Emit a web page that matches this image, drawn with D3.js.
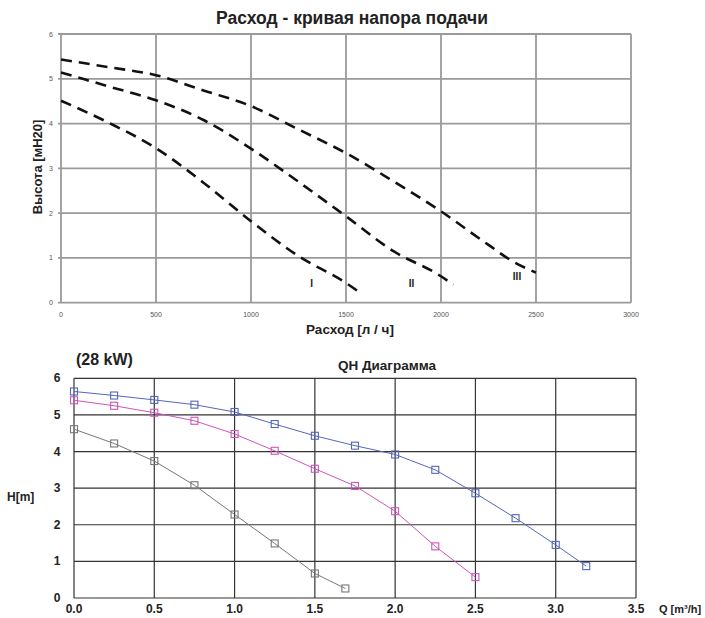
<!DOCTYPE html>
<html>
  <head>
    <meta charset="utf-8" />
    <title>QH curves</title>
    <script src="https://d3js.org/d3.v7.min.js"></script>
    <style>
        body { margin:0; background:#fff; }
        text { font-family: "Liberation Sans", Arial, sans-serif; }
    </style>
  </head>
  <body>
    <svg id="viz"></svg>
    <script>
        // top chart: flow [l/h] vs head [mH2O], three pump speeds
        var flowTicks = [0, 500, 1000, 1500, 2000, 2500, 3000];
        var headTicks = [0, 1, 2, 3, 4, 5, 6];
        var speedI   = [[0,4.51],[250,4.02],[500,3.45],[750,2.68],[1000,1.82],[1250,1.04],[1500,0.44],[1565,0.25]];
        var speedII  = [[0,5.14],[250,4.83],[500,4.52],[750,4.08],[1000,3.44],[1250,2.70],[1500,1.93],[1750,1.15],[2000,0.59],[2065,0.40]];
        var speedIII = [[0,5.43],[250,5.26],[500,5.08],[750,4.74],[1000,4.39],[1250,3.87],[1500,3.34],[1750,2.71],[2000,2.04],[2250,1.29],[2375,0.93],[2500,0.67]];
        var speedLabels = [["I",1319,0.43],["II",1845,0.43],["III",2400,0.59]];

        // bottom chart: Q [m3/h] vs H [m]
        var qTicks = [0, 0.5, 1.0, 1.5, 2.0, 2.5, 3.0, 3.5];
        var hTicks = [0, 1, 2, 3, 4, 5, 6];
        var qhBlue = [[0,5.64],[0.25,5.53],[0.5,5.41],[0.75,5.28],[1.0,5.08],[1.25,4.75],[1.5,4.43],[1.75,4.16],[2.0,3.92],[2.25,3.50],[2.5,2.86],[2.75,2.18],[3.0,1.45],[3.19,0.87]];
        var qhPink = [[0,5.40],[0.25,5.25],[0.5,5.06],[0.75,4.84],[1.0,4.48],[1.25,4.02],[1.5,3.53],[1.75,3.06],[2.0,2.37],[2.25,1.41],[2.5,0.57]];
        var qhGray = [[0,4.61],[0.25,4.22],[0.5,3.74],[0.75,3.08],[1.0,2.28],[1.25,1.49],[1.5,0.67],[1.69,0.26]];

        var width = 705, height = 618;
        var svg = d3.select("#viz").attr("width", width).attr("height", height);
        svg.append("rect").attr("width", width).attr("height", height).attr("fill", "#fff");

        // ---------- top chart ----------
        var x1 = d3.scaleLinear().domain([0, 3000]).range([61, 631]);
        var y1 = d3.scaleLinear().domain([0, 6]).range([302.7, 34]);
        var topG = svg.append("g");

        topG.selectAll("line.vg").data(flowTicks).enter().append("line")
            .attr("x1", d => x1(d)).attr("x2", d => x1(d))
            .attr("y1", y1(0)).attr("y2", y1(6))
            .attr("stroke", "#9a9a9a").attr("stroke-width", 1.8);
        topG.selectAll("line.hg").data(headTicks).enter().append("line")
            .attr("x1", x1(0) - 3).attr("x2", x1(3000))
            .attr("y1", d => y1(d)).attr("y2", d => y1(d))
            .attr("stroke", "#9a9a9a").attr("stroke-width", 1.8);

        topG.selectAll("text.xt").data(flowTicks).enter().append("text")
            .attr("x", d => x1(d)).attr("y", 317)
            .attr("text-anchor", "middle").attr("font-size", 7).attr("fill", "#555")
            .text(d => d);
        topG.selectAll("text.yt").data(headTicks).enter().append("text")
            .attr("x", 53).attr("y", d => y1(d) + 2.5)
            .attr("text-anchor", "end").attr("font-size", 7).attr("fill", "#555")
            .text(d => d);

        var line1 = d3.line().x(d => x1(d[0])).y(d => y1(d[1])).curve(d3.curveMonotoneX);
        topG.selectAll("path.curve").data([speedI, speedII, speedIII]).enter().append("path")
            .attr("d", line1).attr("fill", "none")
            .attr("stroke", "#111").attr("stroke-width", 2.6)
            .attr("stroke-dasharray", "11,7");

        topG.selectAll("text.lab").data(speedLabels).enter().append("text")
            .attr("x", d => x1(d[1])).attr("y", d => y1(d[2]) + 4)
            .attr("text-anchor", "middle").attr("font-size", 10).attr("font-weight", "bold")
            .attr("fill", "#222").text(d => d[0]);

        topG.append("text").attr("x", 352).attr("y", 24)
            .attr("text-anchor", "middle").attr("font-size", 17.5).attr("font-weight", "bold")
            .attr("fill", "#222").text("Расход - кривая напора подачи");
        topG.append("text").attr("x", 350).attr("y", 334)
            .attr("text-anchor", "middle").attr("font-size", 13.5).attr("font-weight", "bold")
            .attr("fill", "#222").text("Расход [л / ч]");
        topG.append("text").attr("transform", "translate(41.5,167) rotate(-90)")
            .attr("text-anchor", "middle").attr("font-size", 13).attr("font-weight", "bold")
            .attr("fill", "#222").text("Высота [мН20]");

        // ---------- bottom chart ----------
        var x2 = d3.scaleLinear().domain([0, 3.5]).range([74, 636]);
        var y2 = d3.scaleLinear().domain([0, 6]).range([598, 378.3]);
        var bot = svg.append("g");

        bot.selectAll("line.vg").data(qTicks).enter().append("line")
            .attr("x1", d => x2(d)).attr("x2", d => x2(d))
            .attr("y1", y2(0)).attr("y2", y2(6))
            .attr("stroke", "#333").attr("stroke-width", 1.2);
        bot.selectAll("line.hg").data(hTicks).enter().append("line")
            .attr("x1", x2(0)).attr("x2", x2(3.5))
            .attr("y1", d => y2(d)).attr("y2", d => y2(d))
            .attr("stroke", "#333").attr("stroke-width", 1.2);

        bot.selectAll("text.xt").data(qTicks).enter().append("text")
            .attr("x", d => x2(d)).attr("y", 613)
            .attr("text-anchor", "middle").attr("font-size", 12).attr("font-weight", "bold")
            .attr("fill", "#222").text(d => d.toFixed(1));
        bot.selectAll("text.yt").data(hTicks).enter().append("text")
            .attr("x", 57).attr("y", d => y2(d) + 4)
            .attr("text-anchor", "middle").attr("font-size", 12).attr("font-weight", "bold")
            .attr("fill", "#222").text(d => d);

        var series = [
            {pts: qhBlue, color: "#5566bb"},
            {pts: qhPink, color: "#cc55bb"},
            {pts: qhGray, color: "#777777"}
        ];
        var line2 = d3.line().x(d => x2(d[0])).y(d => y2(d[1]));
        series.forEach(function (s) {
            bot.append("path").attr("d", line2(s.pts)).attr("fill", "none")
                .attr("stroke", s.color).attr("stroke-width", 1);
            bot.selectAll(null).data(s.pts).enter().append("rect")
                .attr("x", d => x2(d[0]) - 3.5).attr("y", d => y2(d[1]) - 3.5)
                .attr("width", 7).attr("height", 7)
                .attr("fill", "none").attr("stroke", s.color).attr("stroke-width", 1.1);
        });

        bot.append("text").attr("x", 76).attr("y", 365)
            .attr("font-size", 16).attr("font-weight", "bold").attr("fill", "#222")
            .text("(28 kW)");
        bot.append("text").attr("x", 387).attr("y", 370)
            .attr("text-anchor", "middle").attr("font-size", 13.5).attr("font-weight", "bold")
            .attr("fill", "#222").text("QH Диаграмма");
        bot.append("text").attr("x", 7).attr("y", 501)
            .attr("font-size", 12).attr("font-weight", "bold").attr("fill", "#222")
            .text("H[m]");
        bot.append("text").attr("x", 659).attr("y", 613)
            .attr("font-size", 11).attr("font-weight", "bold").attr("fill", "#222")
            .text("Q [m³/h]");
    </script>
  </body>
</html>
